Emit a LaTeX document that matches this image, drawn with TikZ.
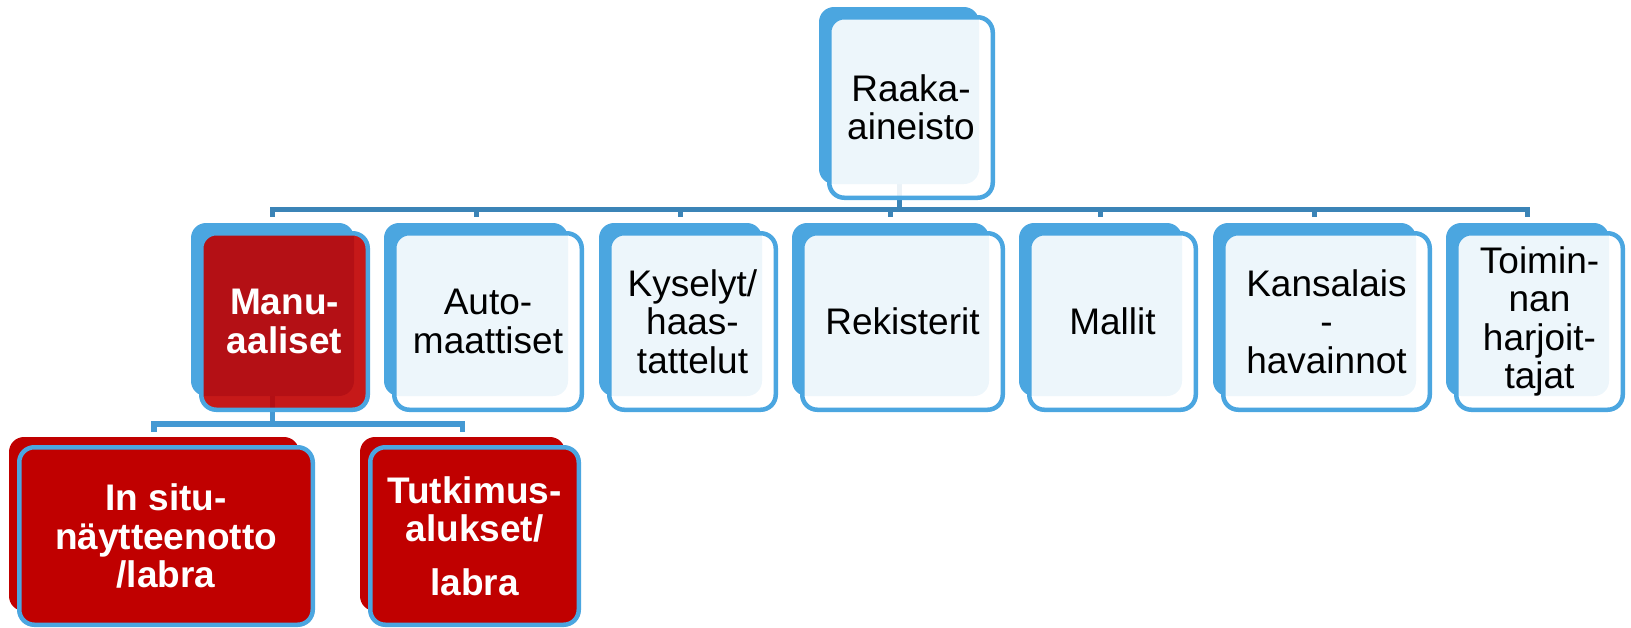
\documentclass[tikz,border=0pt]{standalone}
\usepackage{fontspec}
\setmainfont{Liberation Sans}
\usetikzlibrary{backgrounds}
\definecolor{backblue}{HTML}{4BA6E0}
\definecolor{strokeblue}{HTML}{4BA6E0}
\definecolor{busblue}{HTML}{3B84B7}
\definecolor{subbus}{HTML}{4499D3}
\definecolor{darkred}{HTML}{C00000}
\tikzset{
  backshape/.style={rectangle, rounded corners=15pt, fill=backblue, draw=none, inner sep=0pt},
  backred/.style={rectangle, rounded corners=15pt, fill=darkred, draw=none, inner sep=0pt},
  frontshape/.style={rectangle, rounded corners=15pt, draw=strokeblue, line width=4.5pt,
     fill=white, fill opacity=0.9, text opacity=1, inner sep=0pt, align=center,
     font=\fontsize{37}{38.5}\selectfont, text=black},
  frontred/.style={rectangle, rounded corners=15pt, draw=strokeblue, line width=4.5pt,
     fill=darkred, fill opacity=0.9, text opacity=1, inner sep=0pt, align=center,
     font=\fontsize{37}{38.5}\selectfont\bfseries, text=white},
  frontsub/.style={rectangle, rounded corners=15pt, draw=strokeblue, line width=4.5pt,
     fill=darkred, inner sep=0pt, align=center,
     font=\fontsize{37}{38.5}\selectfont\bfseries, text=white},
  conn/.style={draw=busblue, line width=5pt, line join=miter},
  connsub/.style={draw=subbus, line width=5.5pt, line join=miter}
}
% #1 name, #2 cx, #3 cy, #4 w, #5 h, #6 back style, #7 front style, #8 text
\newcommand\mkbox[8]{%
  \node[#6, minimum width=#4pt-8pt, minimum height=#5pt-8pt] (#1B) at (#2-12,#3-12) {};
  \node[#7, minimum width=#4pt-4.5pt, minimum height=#5pt-4.5pt] (#1) at (#2,#3) {#8};
}
\begin{document}
\begin{tikzpicture}[x=1pt,y=-1pt]
\useasboundingbox (0,0) rectangle (1631,627);
\mkbox{raaka}{911}{107.5}{168}{185}{backshape}{frontshape}{Raaka-\\aineisto}
\mkbox{manu}{284.5}{321.5}{171}{181}{backshape}{frontred}{Manu-\\aaliset}
\mkbox{auto}{488}{321.5}{192}{181}{backshape}{frontshape}{Auto-\\maattiset}
\mkbox{kys}{692.5}{321.5}{171}{181}{backshape}{frontshape}{Kyselyt/\\haas-\\tattelut}
\mkbox{rek}{902.5}{321.5}{205}{181}{backshape}{frontshape}{Rekisterit}
\mkbox{mallit}{1112.5}{321.5}{171}{181}{backshape}{frontshape}{Mallit}
\mkbox{kans}{1326.5}{321.5}{211}{181}{backshape}{frontshape}{Kansalais\\-\\havainnot}
\mkbox{toim}{1539.5}{321.5}{171}{181}{backshape}{frontshape}{Toimin-\\nan\\harjoit-\\tajat}
\mkbox{insitu}{166}{536}{298}{182}{backred}{frontsub}{In situ-\\näytteenotto\\/labra}
\mkbox{tutk}{474.5}{536}{213}{182}{backred}{frontsub}{Tutkimus-\\alukset/\\[15pt]labra}
\begin{scope}[on background layer]
  \foreach \c in {manu,auto,kys,rek,mallit,kans,toim}{
    \draw[conn] (raakaB.south) -- ++(0,25) -| ([yshift=6pt]\c B.north);
  }
  \foreach \c in {insitu,tutk}{
    \draw[connsub] (manuB.south) -- ++(0,28) -| ([yshift=5pt]\c B.north);
  }
\end{scope}
\end{tikzpicture}
\end{document}
